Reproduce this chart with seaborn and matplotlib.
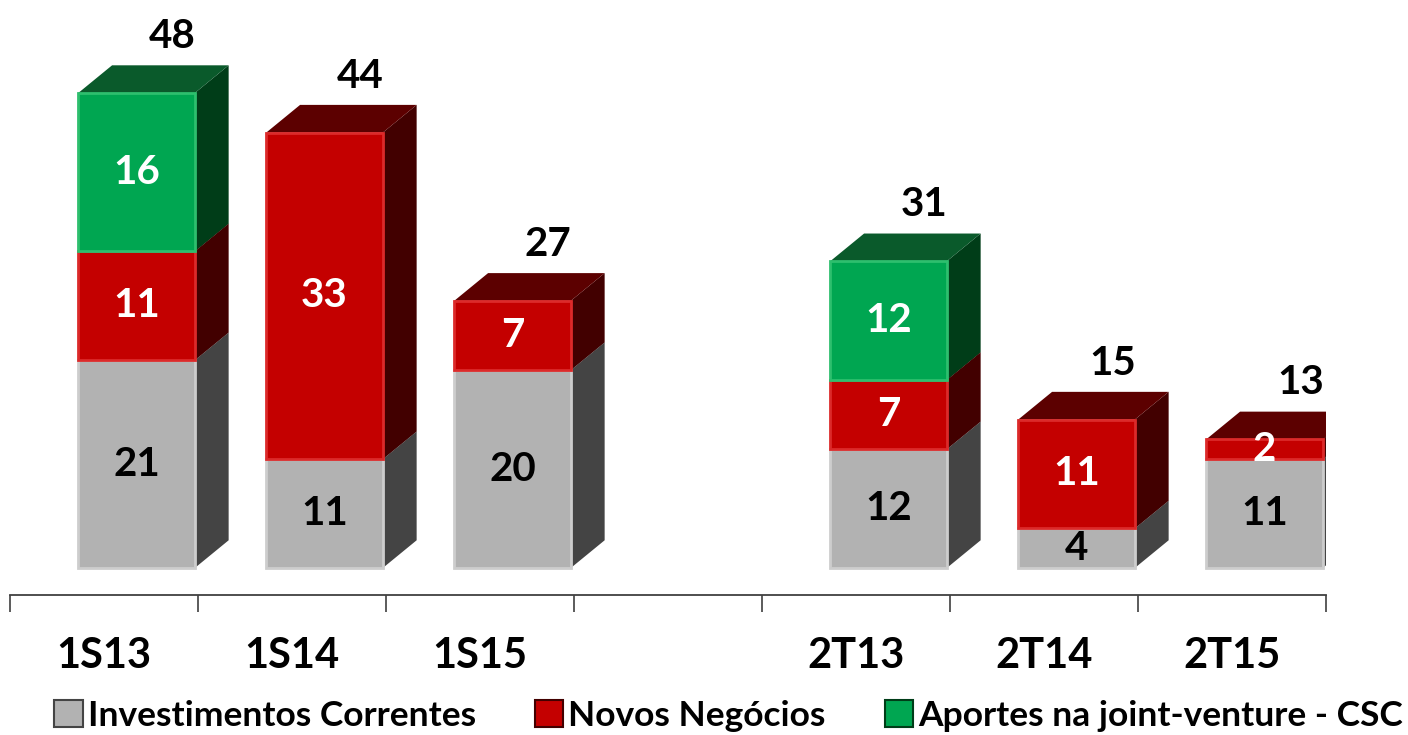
import numpy as np
import pandas as pd
import matplotlib
matplotlib.use("Agg")
import matplotlib.pyplot as plt
from matplotlib.patches import Polygon, Patch
import seaborn as sns

categories = ["1S13", "1S14", "1S15", " ", "2T13", "2T14", "2T15"]
correntes = [21, 11, 20, 0, 12, 4, 11]
novos = [11, 33, 7, 0, 7, 11, 2]
aportes = [16, 0, 0, 0, 12, 0, 0]
totals = [48, 44, 27, None, 31, 15, 13]
series_cols = ["correntes", "novos", "aportes"]
series_names = ["Investimentos Correntes", "Novos Negócios", "Aportes na joint-venture - CSC"]

front_colors = ["#B2B2B2", "#C40000", "#00A651"]
edge_colors = ["#CDCDCD", "#DC2A2A", "#2EBF6E"]
side_colors = ["#444444", "#420000", "#003D18"]
top_colors = ["#7A7A7A", "#5C0000", "#0A5A2B"]
text_colors = ["black", "white", "white"]

# fake 3d depth (data units) and bar geometry
DX, DY = 0.18, 2.8
BAR_W, SHIFT = 0.62, 0.173


def main():
    sns.set_style("white")
    plt.rcParams["font.family"] = ["Lato", "DejaVu Sans"]

    df = pd.DataFrame({"Periodo": categories, "correntes": correntes,
                       "novos": novos, "aportes": aportes})

    fig = plt.figure(figsize=(14.08, 7.35), dpi=100)
    ax = fig.add_axes([10 / 1408, 140 / 735, 1316 / 1408, 595 / 735])

    bottom = np.zeros(len(categories))
    for k, col in enumerate(series_cols):
        n0 = len(ax.patches)
        sns.barplot(data=df, x="Periodo", y=col, order=categories,
                    color=front_colors[k], saturation=1, width=BAR_W,
                    errorbar=None, edgecolor=edge_colors[k], linewidth=2, ax=ax)
        for p in ax.patches[n0:]:
            i = int(round(p.get_x() + p.get_width() / 2))
            val = df[col].iloc[i]
            if not val:
                p.set_visible(False)
                continue
            x0 = p.get_x() + SHIFT
            x1 = x0 + p.get_width()
            y0 = bottom[i]
            y1 = y0 + val
            p.set_x(x0)
            p.set_y(y0)
            p.set_zorder(3 + 2 * k)
            ax.add_patch(Polygon([(x1, y0), (x1 + DX, y0 + DY), (x1 + DX, y1 + DY), (x1, y1)],
                                 closed=True, fc=side_colors[k], ec="none", zorder=2 + 2 * k))
            ax.add_patch(Polygon([(x0, y1), (x0 + DX, y1 + DY), (x1 + DX, y1 + DY), (x1, y1)],
                                 closed=True, fc=top_colors[k], ec="none", zorder=2 + 2 * k))
            ax.text((x0 + x1) / 2, (y0 + y1) / 2, str(val), ha="center", va="center",
                    fontsize=29, fontweight="bold", color=text_colors[k], zorder=20)
        bottom += df[col].values

    for i, tot in enumerate(totals):
        if tot is None:
            continue
        ax.text(i + SHIFT + 0.19, tot + DY + 2.9, str(tot), ha="center", va="center",
                fontsize=29, fontweight="bold", color="black", zorder=20)

    ax.set_xlim(-0.5, 6.5)
    ax.set_ylim(-2.73, 57.4)
    ax.set_xlabel("")
    ax.set_ylabel("")
    ax.set_yticks([])
    ax.set_xticks(range(len(categories)))
    ax.set_xticklabels(categories, fontsize=30, fontweight="bold", color="black")
    ax.set_xticks(np.arange(-0.5, len(categories) + 0.5, 1), minor=True)
    ax.tick_params(axis="x", which="major", bottom=False, length=0, pad=30)
    ax.tick_params(axis="x", which="minor", bottom=True, length=12, width=1.2,
                   color="#404040", direction="out")
    for s in ["left", "top", "right"]:
        ax.spines[s].set_visible(False)
    ax.spines["bottom"].set_color("#404040")
    ax.spines["bottom"].set_linewidth(1.3)

    handles = [Patch(facecolor=front_colors[k], edgecolor=side_colors[k], linewidth=1.5)
               for k in range(3)]
    leg = fig.legend(handles, series_names, loc="center", bbox_to_anchor=(0.5174, 1 - 716 / 735),
                     ncol=3, frameon=False, prop={"size": 25.5, "weight": "bold"},
                     handlelength=0.8, handleheight=0.8, handletextpad=0.14, columnspacing=1.67)
    for t in leg.get_texts():
        t.set_color("black")

    fig.savefig("out.png", dpi=100)
    print("Saved out.png", flush=True)


if __name__ == "__main__":
    main()
